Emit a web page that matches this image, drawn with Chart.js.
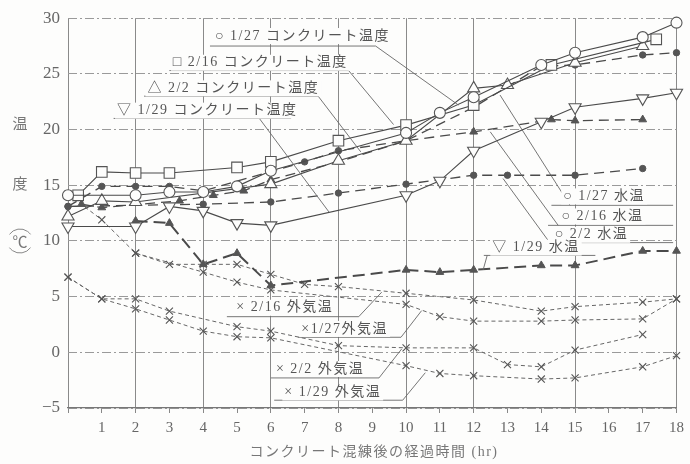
<!DOCTYPE html>
<html>
<head>
<meta charset="utf-8">
<script src="https://cdn.jsdelivr.net/npm/chart.js@4"></script>
<style>
  body { margin: 0; background: #fdfdfc; }
  #tempChart { display: block; }
</style>
</head>
<body>
<canvas id="tempChart" width="690" height="464"></canvas>
<script>
// tick labels
const hourTicks = [1, 2, 3, 4, 5, 6, 7, 8, 9, 10, 11, 12, 13, 14, 15, 16, 17, 18];
const tempTicks = [-5, 0, 5, 10, 15, 20, 25, 30];
const gridHours = [0, 2, 4, 6, 8, 10, 12, 15, 18];

// concrete temperature (solid, open marks)
const hoursC127 = [0, 2, 3, 4, 5, 6, 10, 11, 12, 14, 15, 17, 18];
const tempC127  = [14.1, 14.1, 14.4, 14.4, 14.9, 16.3, 19.7, 21.5, 22.9, 25.8, 26.9, 28.3, 29.6];
const hoursC216 = [0.3, 1, 2, 3, 5, 6, 8, 10, 12, 14.3, 17.4];
const tempC216  = [14.1, 16.2, 16.1, 16.1, 16.6, 17.1, 19.0, 20.4, 22.2, 25.8, 28.1];
const hoursC22  = [0, 1, 2, 6, 8, 10, 12, 13, 15, 17];
const tempC22   = [12.2, 13.6, 13.5, 15.1, 17.2, 19.0, 23.7, 24.0, 26.0, 27.5];
const hoursC129 = [0, 2, 3, 4, 5, 6, 10, 11, 12, 14, 15, 17, 18];
const tempC129  = [11.3, 11.3, 13.1, 12.7, 11.6, 11.4, 14.1, 15.4, 18.1, 20.7, 22.0, 22.8, 23.3];

// water temperature (dashed, filled marks)
const hoursW127 = [0, 1, 2, 3, 4, 7, 8, 10, 12, 14, 15, 17, 18];
const tempW127  = [13.1, 14.9, 14.9, 14.9, 14.5, 17.1, 18.1, 19.0, 22.0, 25.7, 25.8, 26.7, 26.9];
const hoursW216 = [0.4, 1, 3.3, 4.3, 5.2, 6, 8, 10, 12, 14.3, 15, 17];
const tempW216  = [13.3, 13.0, 13.6, 14.1, 14.5, 15.5, 17.1, 19.0, 19.8, 20.9, 20.8, 20.9];
const hoursW22  = [0, 4, 6, 8, 10, 12, 13, 15, 17];
const tempW22   = [13.1, 13.3, 13.5, 14.3, 15.1, 15.9, 15.9, 15.9, 16.5];
const hoursW129 = [2, 3, 4, 5, 6, 10, 11, 12, 14, 15, 17, 18];
const tempW129  = [11.8, 11.6, 7.9, 8.9, 6.0, 7.4, 7.2, 7.4, 7.8, 7.8, 9.1, 9.1];

// outside air temperature (thin dashed, x marks)
const hoursA216 = [0, 1, 2, 3, 4, 5, 6, 7, 8, 10, 12, 14, 15, 17, 18];
const tempA216  = [14.2, 11.9, 8.9, 7.9, 7.9, 7.9, 7.0, 6.1, 5.9, 5.3, 4.7, 3.7, 4.1, 4.5, 4.8];
const hoursA127 = [2, 4, 5, 6, 10, 11, 12, 14, 15, 17, 18];
const tempA127  = [8.9, 7.2, 6.3, 5.6, 4.3, 3.2, 2.8, 2.8, 2.9, 3.0, 4.8];
const hoursA22  = [0, 1, 2, 3, 5, 6, 8, 10, 12, 13, 14, 15, 17];
const tempA22   = [6.75, 4.8, 4.8, 3.7, 2.3, 1.9, 0.6, 0.4, 0.4, -1.1, -1.3, 0.2, 1.6];
const hoursA129 = [0, 1, 2, 3, 4, 5, 6, 10, 11, 12, 14, 15, 17, 18];
const tempA129  = [6.75, 4.8, 3.9, 2.9, 1.9, 1.4, 1.3, -1.2, -1.9, -2.1, -2.4, -2.3, -1.3, -0.3];

// labels with leader lines, in data units: text start, underline, leader end
const notes = [
  { text: "○ 1/27 コンクリート温度", x: 4.35, y: 28.4, ux0: 4.2, ux1: 9.1, uy: 27.5, lx: 11.55, ly: 22.2 },
  { text: "□ 2/16 コンクリート温度", x: 3.1, y: 26.0, ux0: 3.0, ux1: 8.3, uy: 25.3, lx: 9.63, ly: 20.45 },
  { text: "△ 2/2 コンクリート温度", x: 2.35, y: 23.7, ux0: 2.25, ux1: 7.4, uy: 23.0, lx: 8.66, ly: 18.0 },
  { text: "▽ 1/29 コンクリート温度", x: 1.45, y: 21.7, ux0: 1.35, ux1: 6.6, uy: 21.0, lx: 7.72, ly: 12.6, sx: 5.66 },
  { text: "○ 1/27 水温", x: 14.65, y: 14.0, ux0: 14.3, ux1: 17.9, uy: 13.2, lx: 12.78, ly: 23.1, sx: 14.85 },
  { text: "○ 2/16 水温", x: 14.6, y: 12.2, ux0: 14.2, ux1: 17.9, uy: 11.4, lx: 12.49, ly: 19.8, sx: 14.5 },
  { text: "○ 2/2 水温", x: 14.4, y: 10.55, ux0: 14.0, ux1: 17.9, uy: 9.85, lx: 12.87, ly: 15.6, sx: 14.25 },
  { text: "▽ 1/29 水温", x: 12.55, y: 9.4, ux0: 12.3, ux1: 15.6, uy: 8.7, lx: 12.28, ly: 7.4, sx: 12.4 },
  { text: "× 2/16 外気温", x: 4.98, y: 4.0, ux0: 4.7, ux1: 8.6, uy: 3.2, lx: 9.28, ly: 5.4 },
  { text: "×1/27外気温", x: 6.9, y: 2.1, ux0: 6.8, ux1: 9.85, uy: 1.35, lx: 10.46, ly: 3.74 },
  { text: "× 2/2 外気温", x: 6.15, y: -1.5, ux0: 6.0, ux1: 9.2, uy: -2.3, lx: 9.87, ly: 0.3 },
  { text: "× 1/29 外気温", x: 6.4, y: -3.6, ux0: 6.1, ux1: 9.9, uy: -4.3, lx: 10.57, ly: -1.83 }
];

function pts(hours, temps) {
  return hours.map((h, i) => ({ x: h, y: temps[i] }));
}

const ink = "#4a4a4a";

function concrete(hours, temps, style, radius, rotation) {
  return {
    data: pts(hours, temps), showLine: true,
    borderColor: ink, borderWidth: 1.1,
    pointStyle: style, pointRadius: radius, pointRotation: rotation || 0,
    pointBackgroundColor: "#fdfdfc", pointBorderColor: "#555", pointBorderWidth: 1.1,
    clip: false
  };
}

function water(hours, temps, style, radius, width, dash) {
  return {
    data: pts(hours, temps), showLine: true,
    borderColor: ink, borderWidth: width, borderDash: dash,
    pointStyle: style, pointRadius: radius,
    pointBackgroundColor: "#555", pointBorderColor: "#555", pointBorderWidth: 1,
    clip: false
  };
}

function air(hours, temps) {
  return {
    data: pts(hours, temps), showLine: true,
    borderColor: "#666", borderWidth: 1, borderDash: [4, 3],
    pointStyle: "crossRot", pointRadius: 5,
    pointBorderColor: "#555", pointBorderWidth: 1.1,
    clip: false
  };
}

const notePlugin = {
  id: "notes",
  afterDatasetsDraw(chart) {
    const { ctx, scales: { x, y } } = chart;
    ctx.save();
    ctx.strokeStyle = "#666";
    ctx.lineWidth = 0.9;
    ctx.font = "14px 'Liberation Serif', 'Noto Sans CJK JP'";
    ctx.letterSpacing = "1.5px";
    ctx.textBaseline = "middle";
    notes.forEach(n => {
      const uy = y.getPixelForValue(n.uy);
      ctx.beginPath();
      ctx.moveTo(x.getPixelForValue(n.ux0), uy);
      ctx.lineTo(x.getPixelForValue(n.ux1), uy);
      const sx = n.sx !== undefined ? n.sx : n.ux1;
      ctx.moveTo(x.getPixelForValue(sx), uy);
      ctx.lineTo(x.getPixelForValue(n.lx), y.getPixelForValue(n.ly));
      ctx.stroke();
      const tx = x.getPixelForValue(n.x), ty = y.getPixelForValue(n.y);
      const w = ctx.measureText(n.text).width;
      ctx.fillStyle = "#fdfdfc";
      ctx.fillRect(tx - 2, ty - 8, w + 4, 16);
      ctx.fillStyle = "#555";
      ctx.fillText(n.text, tx, ty);
    });

    // axis titles
    ctx.letterSpacing = "0px";
    ctx.font = "15px 'Noto Sans CJK JP'";
    ctx.fillStyle = "#777";
    ctx.textAlign = "center";
    ctx.fillText("温", 20, 123);
    ctx.fillText("度", 20, 183);
    ctx.fillText("℃", 20, 241);
    ctx.strokeStyle = "#888";
    ctx.lineWidth = 1;
    ctx.beginPath();
    ctx.arc(20, 242, 13, 1.2 * Math.PI, 1.8 * Math.PI);
    ctx.stroke();
    ctx.beginPath();
    ctx.arc(20, 240, 13, 0.2 * Math.PI, 0.8 * Math.PI);
    ctx.stroke();
    ctx.font = "14px 'Liberation Serif', 'Noto Sans CJK JP'";
    ctx.letterSpacing = "1.5px";
    ctx.fillText("コンクリート混練後の経過時間 (hr)", 374, 452);
    ctx.restore();
  }
};

new Chart(document.getElementById("tempChart"), {
  type: "scatter",
  data: {
    datasets: [
      concrete(hoursC127, tempC127, "circle", 5.5),
      concrete(hoursC216, tempC216, "rect", 7.5),
      concrete(hoursC22, tempC22, "triangle", 7),
      concrete(hoursC129, tempC129, "triangle", 7, 180),
      water(hoursW127, tempW127, "circle", 3.2, 1.3, [10, 6]),
      water(hoursW216, tempW216, "triangle", 4.5, 1.3, [10, 6]),
      water(hoursW22, tempW22, "circle", 3.2, 1.3, [10, 6]),
      water(hoursW129, tempW129, "triangle", 4.5, 2, [12, 6]),
      air(hoursA216, tempA216),
      air(hoursA127, tempA127),
      air(hoursA22, tempA22),
      air(hoursA129, tempA129)
    ]
  },
  options: {
    responsive: false,
    animation: false,
    layout: { padding: { top: 12, right: 11, left: 0, bottom: 0 } },
    plugins: { legend: { display: false }, tooltip: { enabled: false } },
    scales: {
      x: {
        type: "linear", min: 0, max: 18,
        afterFit: s => { s.height = 56; },
        afterBuildTicks: s => { s.ticks = [0].concat(hourTicks).map(v => ({ value: v })); },
        ticks: {
          callback: v => v === 0 ? "" : v,
          color: "#666", padding: 6, maxRotation: 0, autoSkip: false,
          font: { family: "'Liberation Serif'", size: 15 }
        },
        grid: {
          color: c => gridHours.includes(c.tick.value) ? "#8a8a8a" : "rgba(0,0,0,0)",
          lineWidth: 1, tickLength: 5, tickColor: "#888"
        },
        border: { display: true, color: "#777", width: 1.2 }
      },
      y: {
        min: -5, max: 30,
        afterFit: s => { s.width = 68; },
        afterBuildTicks: s => { s.ticks = tempTicks.map(v => ({ value: v })); },
        ticks: {
          callback: v => v < 0 ? "−" + Math.abs(v) : v,
          color: "#666", padding: 8,
          font: { family: "'Liberation Serif'", size: 17 }
        },
        grid: { color: "#9a9a9a", lineWidth: 1, drawTicks: false },
        border: { display: false, dash: [9, 3, 2, 3] }
      }
    }
  },
  plugins: [notePlugin]
});
</script>
</body>
</html>
